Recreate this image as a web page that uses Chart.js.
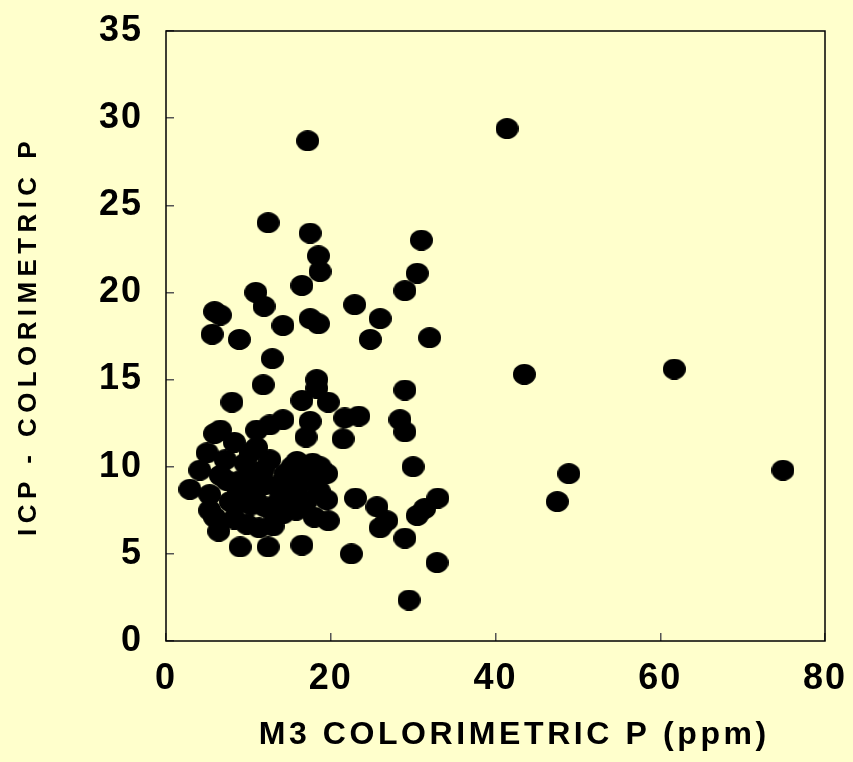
<!DOCTYPE html>
<html>
<head>
<meta charset="utf-8">
<script src="https://cdn.jsdelivr.net/npm/chart.js@4.4.1/dist/chart.umd.min.js"></script>
<style>
  html,body{margin:0;padding:0;background:#ffffcc;}
  #wrap{width:853px;height:762px;}
</style>
</head>
<body>
<div id="wrap"><canvas id="chart" width="853" height="762"></canvas></div>
<script>
// M3 colorimetric P (ppm) vs ICP - colorimetric P
const m3P = [
  74.9, 61.7, 41.4, 43.5, 48.9, 47.5,
  17.2, 12.4, 17.5, 18.5, 18.7, 31.0, 30.5, 29.0,
  10.9, 11.9, 16.5, 22.9, 26.0, 5.9, 6.6, 14.2, 17.5, 18.5, 24.8, 32.0, 5.6, 8.9, 12.9,
  11.8, 18.3, 18.3, 29.0, 8.0, 16.5, 19.7, 23.4, 21.7, 28.4, 29.0, 17.5, 17.0, 21.5, 14.2, 12.6, 11.0, 5.9, 6.6,
  30.0, 23.0, 25.6, 26.8, 26.0, 29.0, 33.0, 31.4, 30.5, 16.5, 22.5, 32.9, 29.5,
  2.9, 4.1, 5.0, 5.3, 5.3, 5.9, 6.4, 6.6, 7.2, 7.4, 7.8, 8.3, 9.0, 8.8, 9.6, 10.2, 9.8, 10.3, 10.5, 11.3,
  11.2, 11.8, 12.0, 12.4, 12.6, 13.0, 13.3, 13.7, 14.2, 14.5, 15.0, 15.3, 15.9, 15.8, 16.3, 17.0, 17.4, 17.8,
  18.0, 18.6, 18.7, 19.5, 19.5, 19.7, 11.0, 8.3,
  9.0, 10.8, 14.4, 8.4, 13.2, 16.3, 12.0
];
const icpP = [
  9.8, 15.6, 29.4, 15.3, 9.6, 8.0,
  28.7, 24.0, 23.4, 22.1, 21.2, 23.0, 21.1, 20.1,
  20.0, 19.2, 20.4, 19.3, 18.5, 18.9, 18.7, 18.1, 18.5, 18.2, 17.3, 17.4, 17.6, 17.3, 16.2,
  14.7, 15.0, 14.5, 14.4, 13.7, 13.8, 13.7, 12.9, 12.8, 12.7, 12.0, 12.6, 11.7, 11.6, 12.7, 12.4, 12.1, 11.9, 12.1,
  10.0, 8.2, 7.7, 6.9, 6.5, 5.9, 8.2, 7.6, 7.2, 5.5, 5.0, 4.5, 2.35,
  8.7, 9.8, 10.8, 8.4, 7.5, 7.1, 6.3, 9.5, 10.4, 9.2, 8.0, 7.0, 5.4, 8.6, 10.2, 10.8, 6.7, 7.8, 9.3, 6.5,
  8.8, 9.8, 7.7, 5.4, 10.4, 6.6, 8.9, 8.0, 7.3, 9.6, 8.5, 10.0, 10.3, 7.5, 9.0, 8.0, 9.4, 10.2,
  7.1, 8.6, 10.0, 9.6, 8.1, 6.9, 11.1, 11.4,
  9.2, 8.1, 9.2, 7.8, 7.2, 8.1, 9.0
];
const xTickValues = [0, 20, 40, 60, 80];
const yTickValues = [0, 5, 10, 15, 20, 25, 30, 35];
const xTitle = '   M3 COLORIMETRIC P (ppm)'; // sits a bit right of centre on the slide
const yTitle = 'ICP - COLORIMETRIC P';

const FAMILY = '"Liberation Sans", Arial, sans-serif';
const BG = '#ffffcc';
// the slide text is spread out a bit, differently per text
const spacing = { x: { title: 3.6, labels: 2 }, y: { title: 5.4, labels: 2 } };

// slightly flattened black dot
const dot = document.createElement('canvas');
dot.width = 23; dot.height = 21;
(() => {
  const c = dot.getContext('2d');
  c.fillStyle = '#000';
  c.beginPath();
  c.ellipse(11.5, 10.5, 11.5, 10.5, 0, 0, Math.PI * 2);
  c.fill();
})();

function spaced(scale, fn, px){
  const orig = scale[fn];
  if (orig._spaced) return;
  const wrapped = function(...args){
    const c = this.ctx;
    c.letterSpacing = px + 'px';
    const r = orig.apply(this, args);
    c.letterSpacing = '0px';
    return r;
  };
  wrapped._spaced = true;
  scale[fn] = wrapped;
}

const paper = {
  id: 'paper',
  beforeDraw(chart){
    const c = chart.ctx;
    c.save();
    c.fillStyle = BG;
    c.fillRect(0, 0, chart.width, chart.height);
    c.restore();
    for (const id of ['x', 'y']) {
      spaced(chart.scales[id], 'drawTitle', spacing[id].title);
      spaced(chart.scales[id], 'drawLabels', spacing[id].labels);
    }
  },
  afterDatasetsDraw(chart){
    const {left, top, width, height} = chart.chartArea;
    const c = chart.ctx;
    c.save();
    c.strokeStyle = '#000';
    c.lineWidth = 1.5;
    c.strokeRect(left, top, width, height);
    c.restore();
  }
};

new Chart(document.getElementById('chart'), {
  type: 'scatter',
  data: {
    datasets: [{
      data: m3P.map((x, i) => ({x, y: icpP[i]})),
      pointStyle: dot,
      pointRadius: 11,
      backgroundColor: '#000',
      borderColor: '#000'
    }]
  },
  options: {
    responsive: false,
    animation: false,
    devicePixelRatio: 1,
    layout: { padding: { left: 0, top: 31, right: 28, bottom: 0 } },
    plugins: { legend: { display: false }, tooltip: { enabled: false } },
    scales: {
      x: {
        type: 'linear', min: 0, max: 80,
        afterBuildTicks: s => { s.ticks = xTickValues.map(v => ({value: v})); },
        afterFit: s => { s.height = 121; s.paddingLeft = 0; s.paddingRight = 0; },
        border: { display: false },
        grid: { drawOnChartArea: false, tickLength: -8, color: '#555', lineWidth: 1.5 },
        ticks: { color: '#000', padding: 24, font: { family: FAMILY, size: 36, weight: 'bold' } },
        title: { display: true, text: xTitle, color: '#000', padding: { top: 0, bottom: 8 },
                 font: { family: FAMILY, size: 32, weight: 'bold' } }
      },
      y: {
        type: 'linear', min: 0, max: 35,
        afterBuildTicks: s => { s.ticks = yTickValues.map(v => ({value: v})); },
        afterFit: s => { s.width = 166; s.paddingTop = 0; s.paddingBottom = 0; },
        border: { display: false },
        grid: { drawOnChartArea: false, tickLength: -8, color: '#555', lineWidth: 1.5 },
        ticks: { color: '#000', padding: 31, font: { family: FAMILY, size: 36, weight: 'bold' } },
        title: { display: true, text: yTitle, color: '#000', padding: { top: 13, bottom: 0 },
                 font: { family: FAMILY, size: 26, weight: 'bold' } }
      }
    }
  },
  plugins: [paper]
});
</script>
</body>
</html>
